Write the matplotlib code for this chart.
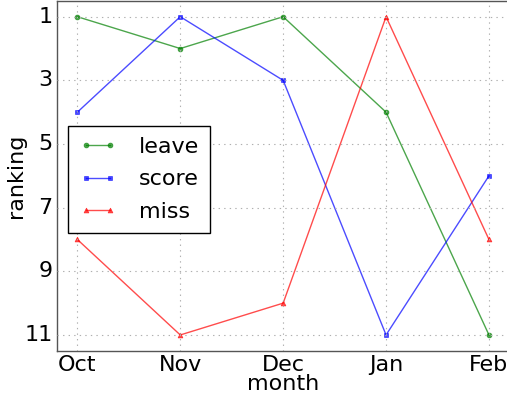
import numpy as np
import matplotlib
matplotlib.use('Agg')
import matplotlib.pyplot as plt

plt.style.use('classic')

months = ['Oct', 'Nov', 'Dec', 'Jan', 'Feb']
leave = [1, 2, 1, 4, 11]
score = [4, 1, 3, 11, 6]
miss = [8, 11, 10, 1, 8]

fig = plt.figure(figsize=(5.07, 4.01), dpi=100)
ax = fig.add_axes([0.112, 0.125, 0.893, 0.873])

x = np.arange(len(months))
ax.plot(x, leave, 'g-', marker='o', markersize=3.5, lw=1, alpha=0.7, markeredgecolor='g', label='leave')
ax.plot(x, score, 'b-', marker='s', markersize=3.5, lw=1, alpha=0.7, markeredgecolor='b', label='score')
ax.plot(x, miss, 'r-', marker='^', markersize=3.5, lw=1, alpha=0.7, markeredgecolor='r', label='miss')

ax.set_xlim(-0.2, 4.2)
ax.set_ylim(11.5, 0.5)
ax.set_xticks(x)
ax.set_xticklabels(months, fontsize=16)
ax.set_yticks([1, 3, 5, 7, 9, 11])
ax.tick_params(labelsize=16, length=0, pad=3)
ax.set_xlabel('month', fontsize=16)
ax.set_ylabel('ranking', fontsize=16)
ax.xaxis.set_label_coords(0.5, -0.066)
ax.yaxis.set_label_coords(-0.068, 0.5)
ax.grid(True, color='#b0b0b0', linestyle=':', linewidth=0.8)
for s in ax.spines.values():
    s.set_color('#555555')

ax.legend(loc='center left', bbox_to_anchor=(0.0, 0.49), fontsize=16, numpoints=2,
          handlelength=1.7, labelspacing=0.55, borderpad=0.5, handletextpad=1.0)

fig.savefig('out.png', dpi=100)
